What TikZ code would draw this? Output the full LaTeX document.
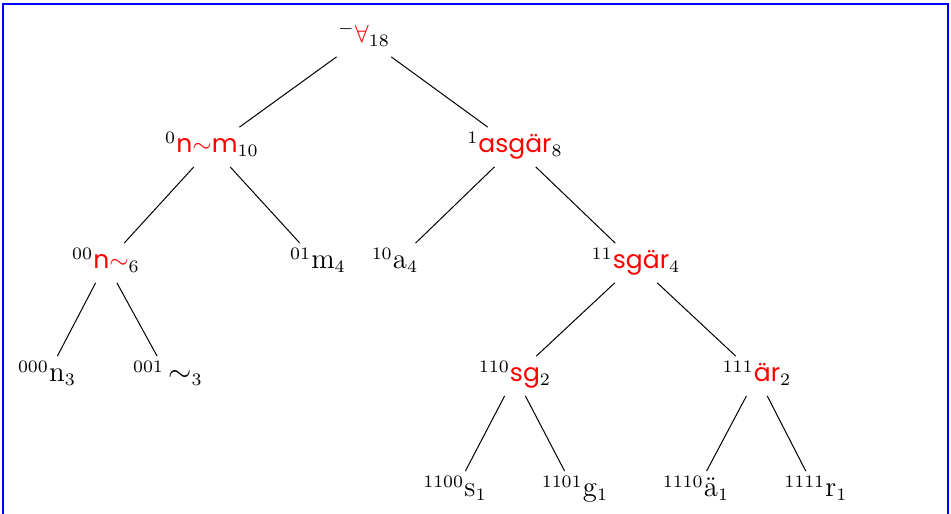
\documentclass[tikz,border=0pt]{standalone}
\usepackage{fontspec}
\newfontfamily\redfont{Poppins}
\newcommand\rt[1]{\textcolor{red}{\redfont #1}}
\newcommand\bk[1]{{\fontsize{11.5}{13}\selectfont #1}}
\begin{document}
\begin{tikzpicture}[x=0.4pt,y=-0.4pt,
  tn/.style={inner xsep=1pt, inner ysep=3pt, text height=7pt, text depth=2.5pt},
  edge/.style={draw=black, line width=0.4pt}]
\clip (0,0) rectangle (951,513);
\draw[blue, line width=0.5pt] (3,4) rectangle (948,540);
% level 0
\node[tn] (r) at (364,37) {${}^{-}$\rt{$\forall$}${}_{18}$};
% level 1
\node[tn] (l) at (212,147) {${}^{0}$\rt{n$\sim$m}${}_{10}$};
\node[tn] (rr) at (515,147) {${}^{1}$\rt{asgär}${}_{8}$};
% level 2
\node[tn] (ll) at (106,263) {${}^{00}$\rt{n$\sim$}${}_{6}$};
\node[tn] (lr) at (318,263) {${}^{01}$\bk{m}${}_{4}$};
\node[tn] (rl) at (395,263) {${}^{10}$\bk{a}${}_{4}$};
\node[tn] (r2) at (636,263) {${}^{11}$\rt{sgär}${}_{4}$};
% level 3
\node[tn] (lll) at (47,376) {${}^{000}$\bk{n}${}_{3}$};
\node[tn] (llr) at (168,376) {${}^{001}$\,\bk{$\sim$}${}_{3}$};
\node[tn] (r2l) at (515,376) {${}^{110}$\rt{sg}${}_{2}$};
\node[tn] (r2r) at (757,376) {${}^{111}$\rt{är}${}_{2}$};
% level 4
\node[tn] (a1) at (455,491) {${}^{1100}$\bk{s}${}_{1}$};
\node[tn] (a2) at (575,491) {${}^{1101}$\bk{g}${}_{1}$};
\node[tn] (a3) at (696,491) {${}^{1110}$\bk{ä}${}_{1}$};
\node[tn] (a4) at (816,491) {${}^{1111}$\bk{r}${}_{1}$};
% edges
\draw[edge] (r) -- (l);
\draw[edge] (r) -- (rr);
\draw[edge] (l) -- (ll);
\draw[edge] (l) -- (lr);
\draw[edge] (rr) -- (rl);
\draw[edge] (rr) -- (r2);
\draw[edge] (ll) -- (lll);
\draw[edge] (ll) -- (llr);
\draw[edge] (r2) -- (r2l);
\draw[edge] (r2) -- (r2r);
\draw[edge] (r2l) -- (a1);
\draw[edge] (r2l) -- (a2);
\draw[edge] (r2r) -- (a3);
\draw[edge] (r2r) -- (a4);
\end{tikzpicture}
\end{document}
